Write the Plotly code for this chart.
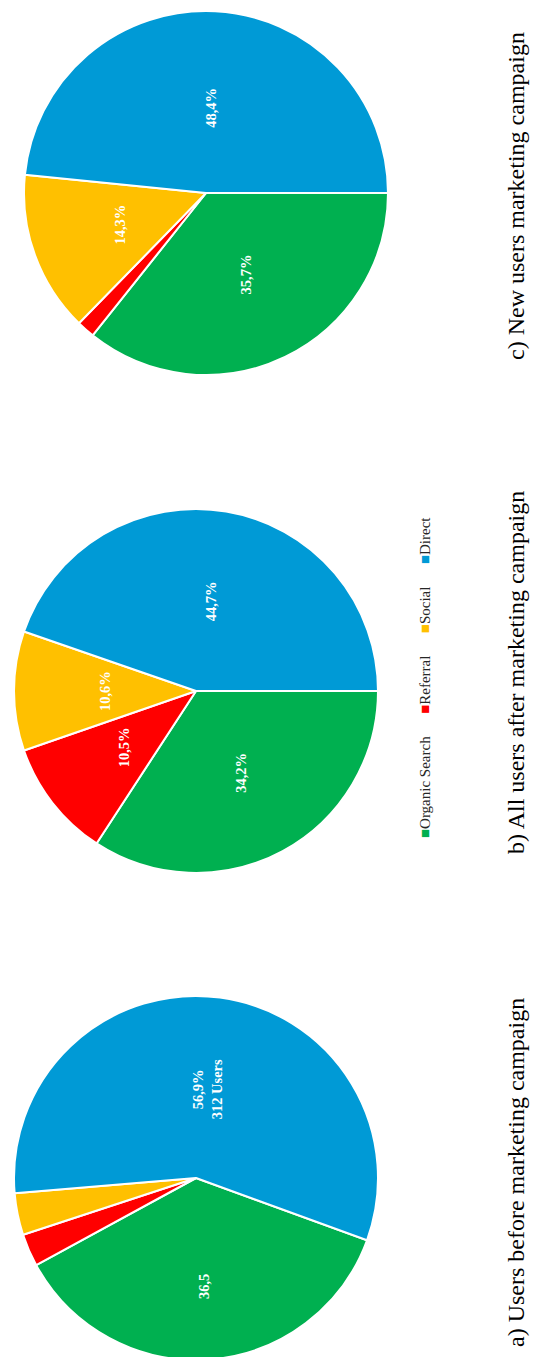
import math
import plotly.graph_objects as go

W, H = 542, 1357

categories = ["Organic Search", "Referral", "Social", "Direct"]
colors = ["#00B050", "#FF0000", "#FFC000", "#009AD6"]

values_a = [36.5, 2.9, 3.7, 56.9]
values_b = [34.2, 10.5, 10.6, 44.7]
values_c = [35.7, 1.6, 14.3, 48.4]

labels_a = ["36,5", "", "", "56,9%<br>312 Users"]
labels_b = ["34,2%", "10,5%", "10,6%", "44,7%"]
labels_c = ["35,7%", "", "14,3%", "48,4%"]

captions = ["a) Users before marketing campaign",
            "b) All users after marketing campaign",
            "c) New users marketing campaign"]

# layout (pixels in the rotated frame): center x, center y, radius, start rotation
pies = [
    dict(vals=values_a, labs=labels_a, cx=188, cy=1170, r=182, rot=110, cap=captions[0],
         capy=1165, fr=[0.6, 0.7, 0.7, 0.49]),
    dict(vals=values_b, labs=labels_b, cx=188, cy=683, r=182, rot=90, cap=captions[1],
         capy=665, fr=[0.51, 0.5, 0.5, 0.5]),
    dict(vals=values_c, labs=labels_c, cx=198, cy=185, r=182, rot=90, cap=captions[2],
         capy=188, fr=[0.5, 0.7, 0.5, 0.47]),
]

SERIF = "Liberation Serif, Times New Roman, serif"

fig = go.Figure()
annotations = []
for p in pies:
    x0, x1 = (p["cx"] - p["r"]) / W, (p["cx"] + p["r"]) / W
    y0, y1 = 1 - (p["cy"] + p["r"]) / H, 1 - (p["cy"] - p["r"]) / H
    fig.add_trace(go.Pie(
        labels=categories, values=p["vals"], sort=False, direction="clockwise",
        rotation=p["rot"], domain=dict(x=[max(x0, 0), min(x1, 1)], y=[max(y0, 0), min(y1, 1)]),
        marker=dict(colors=colors, line=dict(color="white", width=2)),
        textinfo="none", hoverinfo="label+value", showlegend=False,
    ))
    total = sum(p["vals"])
    ang = p["rot"]  # clockwise from 12 o'clock
    for v, lab, f in zip(p["vals"], p["labs"], p["fr"]):
        span = v / total * 360
        mid = ang + span / 2
        ang += span
        if not lab:
            continue
        px = p["cx"] + f * p["r"] * math.sin(math.radians(mid))
        py = p["cy"] - f * p["r"] * math.cos(math.radians(mid))
        annotations.append(dict(
            x=px / W, y=1 - py / H, xref="paper", yref="paper",
            text="<b>" + lab.replace("<br>", "</b><br><b>") + "</b>",
            showarrow=False, textangle=-90, xanchor="center", yanchor="middle",
            font=dict(family=SERIF, size=14.5, color="white"),
        ))
    annotations.append(dict(
        x=508 / W, y=1 - p["capy"] / H, xref="paper", yref="paper", text=p["cap"],
        showarrow=False, textangle=-90, xanchor="center", yanchor="middle",
        font=dict(family=SERIF, size=24, color="black"),
    ))

# legend drawn as rotated text
sp = "&nbsp;" * 6
legend_text = sp.join(
    f"<span style='color:{c}'>■</span>{n}" for n, c in zip(categories, colors)
)
annotations.append(dict(
    x=417 / W, y=1 - 670 / H, xref="paper", yref="paper", text=legend_text,
    showarrow=False, textangle=-90, xanchor="center", yanchor="middle",
    font=dict(family=SERIF, size=15, color="#262626"),
))

fig.update_layout(
    width=W, height=H, margin=dict(l=0, r=0, t=0, b=0),
    paper_bgcolor="white", plot_bgcolor="white",
    annotations=annotations,
)

fig.write_html("out.html")
